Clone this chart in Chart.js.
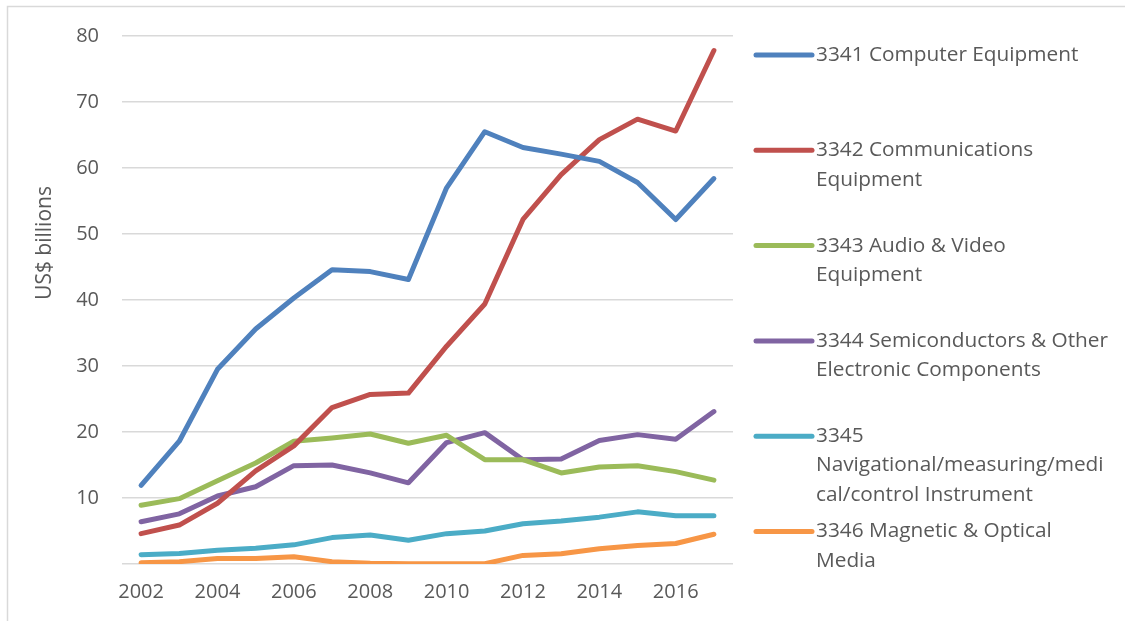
<!DOCTYPE html>
<html>
<head>
<meta charset="utf-8">
<script src="https://cdn.jsdelivr.net/npm/chart.js@4/dist/chart.umd.min.js"></script>
<style>
  html, body { margin: 0; padding: 0; background: #ffffff; }
  #wrap { position: relative; width: 1125px; height: 621px; }
</style>
</head>
<body>
<div id="wrap"><canvas id="c" width="1125" height="621"></canvas></div>
<script>
const years = ['2002','2003','2004','2005','2006','2007','2008','2009','2010','2011','2012','2013','2014','2015','2016','2017'];
const yTicks = [0, 10, 20, 30, 40, 50, 60, 70, 80];
const yTitle = 'US$ billions';

const labels3341 = ['3341 Computer Equipment'];
const labels3342 = ['3342 Communications', 'Equipment'];
const labels3343 = ['3343 Audio & Video', 'Equipment'];
const labels3344 = ['3344 Semiconductors & Other', 'Electronic Components'];
const labels3345 = ['3345', 'Navigational/measuring/medi', 'cal/control Instrument'];
const labels3346 = ['3346 Magnetic & Optical', 'Media'];

const computer      = [11.9, 18.6, 29.5, 35.6, 40.3, 44.6, 44.3, 43.1, 57.0, 65.5, 63.1, 62.1, 61.0, 57.8, 52.2, 58.4];
const communication = [4.6, 5.9, 9.2, 14.1, 17.9, 23.7, 25.7, 25.9, 33.0, 39.4, 52.2, 59.0, 64.3, 67.4, 65.6, 77.8];
const audioVideo    = [8.9, 9.9, 12.6, 15.3, 18.6, 19.1, 19.7, 18.3, 19.5, 15.8, 15.8, 13.8, 14.7, 14.9, 14.0, 12.7];
const semiconductor = [6.4, 7.6, 10.3, 11.7, 14.9, 15.0, 13.8, 12.3, 18.4, 19.9, 15.8, 15.9, 18.7, 19.6, 18.9, 23.1];
const instruments   = [1.4, 1.6, 2.1, 2.4, 2.9, 4.0, 4.4, 3.6, 4.6, 5.0, 6.1, 6.5, 7.1, 7.9, 7.3, 7.3];
const media         = [0.2, 0.35, 0.85, 0.85, 1.1, 0.35, 0.1, 0.05, 0.05, 0.05, 1.3, 1.55, 2.3, 2.8, 3.1, 4.5];

const FONT = '"Open Sans", "Liberation Sans", sans-serif';
const TEXT = '#595959';
const GRID = '#d9d9d9';

function ds(label, data, color) {
  return {
    label: label, data: data, borderColor: color, backgroundColor: color,
    borderWidth: 5, pointRadius: 0, pointHoverRadius: 0, tension: 0,
    borderCapStyle: 'round', borderJoinStyle: 'round', fill: false
  };
}

const frame = {
  id: 'frame',
  beforeDraw(chart) {
    const ctx = chart.ctx;
    ctx.save();
    ctx.strokeStyle = GRID;
    ctx.lineWidth = 1.5;
    ctx.beginPath();
    ctx.moveTo(7.5, 621);
    ctx.lineTo(7.5, 6.5);
    ctx.lineTo(1125, 6.5);
    ctx.stroke();
    ctx.restore();
  }
};

const customLegend = {
  id: 'customLegend',
  afterDraw(chart) {
    const ctx = chart.ctx;
    const x0 = 756, x1 = 812, tx = 816;
    const top = 55, slot = 95.3, lh = 29.3;
    ctx.save();
    ctx.font = '20.8px ' + FONT;
    ctx.fillStyle = TEXT;
    ctx.textBaseline = 'middle';
    ctx.textAlign = 'left';
    chart.data.datasets.forEach((d, i) => {
      const y = top + i * slot;
      ctx.strokeStyle = d.borderColor;
      ctx.lineWidth = 5;
      ctx.lineCap = 'round';
      ctx.beginPath();
      ctx.moveTo(x0, y);
      ctx.lineTo(x1, y);
      ctx.stroke();
      d.label.forEach((line, k) => {
        ctx.fillText(line, tx, y + k * lh);
      });
    });
    // y axis title
    ctx.font = '21px ' + FONT;
    ctx.translate(45, 243);
    ctx.rotate(-Math.PI / 2);
    ctx.textAlign = 'center';
    ctx.fillText(yTitle, 0, 0);
    ctx.restore();
  }
};

new Chart(document.getElementById('c'), {
  type: 'line',
  data: {
    labels: years,
    datasets: [
      ds(labels3341, computer, '#4F81BD'),
      ds(labels3342, communication, '#C0504D'),
      ds(labels3343, audioVideo, '#9BBB59'),
      ds(labels3344, semiconductor, '#8064A2'),
      ds(labels3345, instruments, '#4BACC6'),
      ds(labels3346, media, '#F79646')
    ]
  },
  options: {
    responsive: false,
    animation: false,
    events: [],
    layout: { padding: { left: 0, top: 36, right: 392, bottom: 0 } },
    plugins: {
      legend: { display: false },
      tooltip: { enabled: false },
      title: { display: false }
    },
    scales: {
      x: {
        type: 'category',
        offset: true,
        grid: { display: false, drawTicks: false },
        border: { display: false },
        ticks: {
          autoSkip: false, maxRotation: 0, minRotation: 0,
          color: TEXT, font: { family: FONT, size: 20 }, padding: 16,
          callback: function(v, i) { return i % 2 === 0 ? years[i] : ''; }
        },
        afterFit(scale) { scale.height = 57; }
      },
      y: {
        min: 0, max: 80,
        afterBuildTicks(scale) { scale.ticks = yTicks.map(v => ({ value: v })); },
        grid: { color: GRID, lineWidth: 1.5, drawTicks: false },
        border: { display: false },
        ticks: {
          color: TEXT, font: { family: FONT, size: 20 }, padding: 23,
          callback: function(v) { return v === 0 ? '' : String(v); }
        },
        afterFit(scale) { scale.width = 122; }
      }
    }
  },
  plugins: [frame, customLegend]
});
</script>
</body>
</html>
